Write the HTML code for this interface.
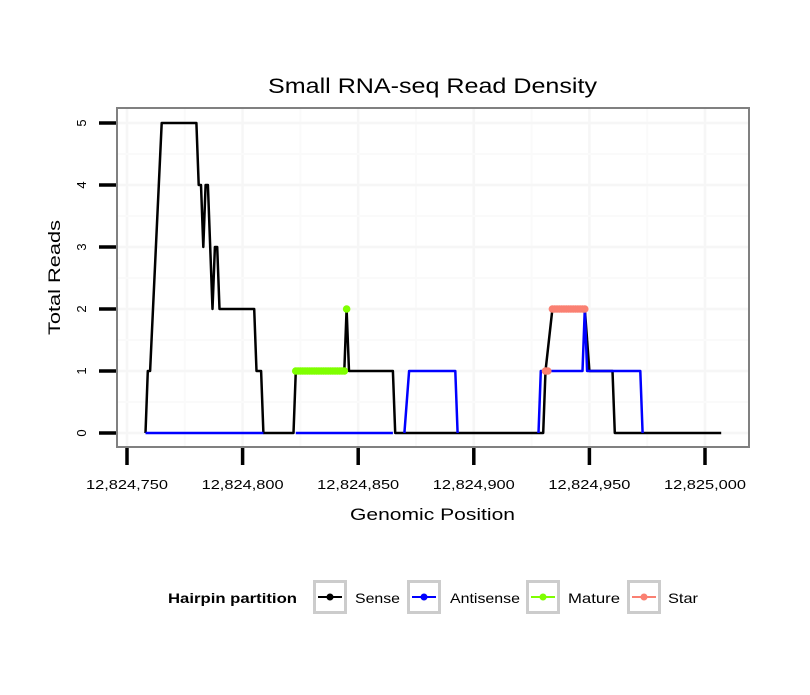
<!DOCTYPE html>
<html><head><meta charset="utf-8"><style>
body{margin:0;background:#fff}
svg text{font-family:"Liberation Sans",sans-serif}
</style></head><body>
<svg id="chart" width="810" height="690" xmlns="http://www.w3.org/2000/svg">
<rect x="0" y="0" width="810" height="690" fill="#fff"/>
<g id="grid"></g>
<g id="series"></g>
<rect x="117" y="108" width="632" height="339" fill="none" stroke="#808080" stroke-width="2"/>
<g id="axes"></g>
<text x="268" y="93" font-size="21" textLength="329" lengthAdjust="spacingAndGlyphs">Small RNA-seq Read Density</text>
<text x="350" y="520" font-size="17" textLength="165" lengthAdjust="spacingAndGlyphs">Genomic Position</text>
<text transform="translate(60,335) rotate(-90)" font-size="17" textLength="115" lengthAdjust="spacingAndGlyphs">Total Reads</text>
<g>
<text x="168" y="603" font-size="14" font-weight="bold" textLength="129" lengthAdjust="spacingAndGlyphs">Hairpin partition</text>
<g id="legend-items"></g>
</g>
</svg>
<script>
const xTicks=[12824750,12824800,12824850,12824900,12824950,12825000];
const xTickLabels=["12,824,750","12,824,800","12,824,850","12,824,900","12,824,950","12,825,000"];
const yTicks=[0,1,2,3,4,5];
const senseX=[758,759,760,765,780,781,782,783,784,785,787,788,789,790,805,806,808,809,822,823,844,845,846,865,866,930,931,934,948,950,960,961,1007];
const senseY=[0,1,1,5,5,4,4,3,4,4,2,3,3,2,2,1,1,0,0,1,1,2,1,1,0,0,1,2,2,1,1,0,0];
const antiSegX=[[758,809],[823,865],[870,872,892,893],[928,929,947,948,949,972,973]];
const antiSegY=[[0,0],[0,0],[0,1,1,0],[0,1,1,2,1,1,0]];
const matureX=[823,824,825,826,827,828,829,830,831,832,833,834,835,836,837,838,839,840,841,842,843,844,845];
const matureY=[1,1,1,1,1,1,1,1,1,1,1,1,1,1,1,1,1,1,1,1,1,1,2];
const starX=[931,932,934,935,936,937,938,939,940,941,942,943,944,945,946,947,948];
const starY=[1,1,2,2,2,2,2,2,2,2,2,2,2,2,2,2,2];
const legendLabels=["Sense","Antisense","Mature","Star"];
const legendColors=["#000000","#0000ff","#7fff00","#fa8072"];

const NS="http://www.w3.org/2000/svg";
const sx=v=>127+(v-12824750)*2.312;
const px=v=>sx(12824000+v);
const sy=v=>433-v*62;
function mk(tag,attrs,parent){const e=document.createElementNS(NS,tag);for(const k in attrs)e.setAttribute(k,attrs[k]);parent.appendChild(e);return e;}
const grid=document.getElementById('grid'),series=document.getElementById('series'),axes=document.getElementById('axes');
for(let i=0;i<xTicks.length;i++){
  const l=mk('line',{x1:sx(xTicks[i]),x2:sx(xTicks[i]),y1:108,y2:447,stroke:'#f6f6f6','stroke-width':2.5},grid);
  
  
  const m=sx(xTicks[i]+25);
  if(m<749){const l2=mk('line',{x1:m,x2:m,y1:108,y2:447,stroke:'#fafafa','stroke-width':2},grid);
  
  }
}
for(let i=0;i<yTicks.length;i++){
  const l=mk('line',{x1:117,x2:749,y1:sy(yTicks[i]),y2:sy(yTicks[i]),stroke:'#f6f6f6','stroke-width':2.5},grid);
  
  
  const my=sy(yTicks[i]+0.5);
  if(my>108){const l2=mk('line',{x1:117,x2:749,y1:my,y2:my,stroke:'#fafafa','stroke-width':2},grid);
  
  }
}
function line(xs,ys,color,name){
  const d=xs.map((x,i)=>(i?'L':'M')+px(x).toFixed(1)+','+sy(ys[i]).toFixed(1)).join('');
  const p=mk('path',{d:d,fill:'none',stroke:color,'stroke-width':2.5,'stroke-linejoin':'round'},series);
  
  
}
line(senseX,senseY,'#000','sense-line');
for(let s=0;s<antiSegX.length;s++)line(antiSegX[s],antiSegY[s],'#0000ff','antisense-line');
function pts(xs,ys,color,name){
  for(let i=0;i<xs.length;i++){
    const c=mk('circle',{cx:px(xs[i]),cy:sy(ys[i]),r:3.8,fill:color},series);
    
    
  }
}
pts(matureX,matureY,'#7fff00','mature-point');
pts(starX,starY,'#fa8072','star-point');
for(let i=0;i<xTicks.length;i++){
  const t=mk('line',{x1:sx(xTicks[i]),x2:sx(xTicks[i]),y1:448,y2:465,stroke:'#000','stroke-width':3.5},axes);
  
  
  const tx=mk('text',{x:sx(xTicks[i])-41,y:489,'font-size':13,textLength:82,lengthAdjust:'spacingAndGlyphs'},axes);
  tx.textContent=xTickLabels[i];
  
  
}
for(let i=0;i<yTicks.length;i++){
  const t=mk('line',{x1:99,x2:116,y1:sy(yTicks[i]),y2:sy(yTicks[i]),stroke:'#000','stroke-width':3.5},axes);
  
  
  const tx=mk('text',{transform:`translate(86,${sy(yTicks[i])}) rotate(-90)`,'font-size':13,'text-anchor':'middle'},axes);
  tx.textContent=yTicks[i];
  
  
}
const lg=document.getElementById('legend-items');
const keyX=[313,407,526,627];
const labelX=[355,450,568,668];
const labelW=[45,70,52,30];
for(let i=0;i<legendLabels.length;i++){
  const g=mk('g',{},lg);
  
  
  const x=keyX[i];
  mk('rect',{x:x+1.5,y:581.5,width:31,height:31,fill:'#fff',stroke:'#cccccc','stroke-width':3},g);
  mk('line',{x1:x+5,x2:x+29,y1:597,y2:597,stroke:legendColors[i],'stroke-width':2},g);
  mk('circle',{cx:x+17,cy:597,r:3.5,fill:legendColors[i]},g);
  const t=mk('text',{x:labelX[i],y:603,'font-size':14,textLength:labelW[i],lengthAdjust:'spacingAndGlyphs'},g);
  t.textContent=legendLabels[i];
}
</script>
</body></html>
